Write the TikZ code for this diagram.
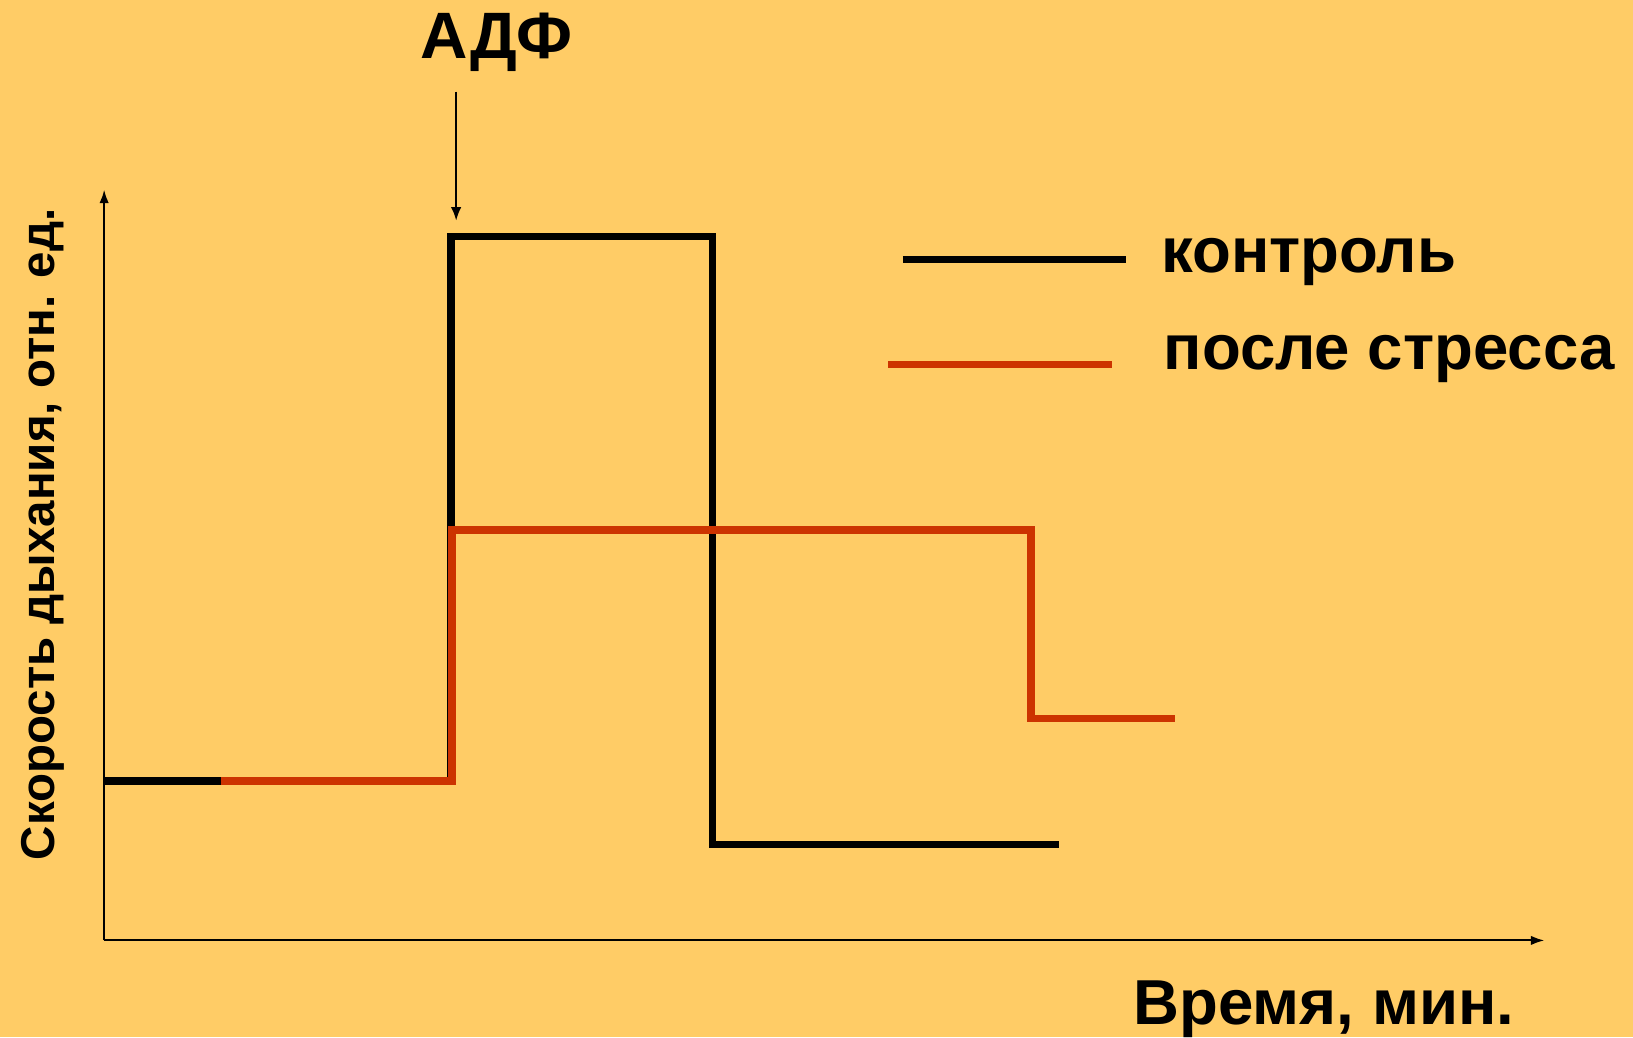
\documentclass[tikz,border=0pt]{standalone}
\usepackage{fontspec}
\setmainfont{Liberation Sans}
\usetikzlibrary{arrows.meta}
\definecolor{bg}{HTML}{FFCC66}
\definecolor{stress}{HTML}{CC3300}

\begin{document}
\begin{tikzpicture}[x=0.5pt,y=0.5pt,
  axis/.style={line width=1pt,-{Latex[length=6.5pt,width=4.5pt]}},
  ctrl/.style={line width=3.6pt,black},
  strs/.style={line width=3.6pt,stress},
  lbl/.style={font=\fontsize{30.5}{36}\selectfont\bfseries,inner sep=0pt}]
\fill[bg] (0,0) rectangle (1568,996);
\useasboundingbox (0,0) rectangle (1568,996);

% axes
\coordinate (O) at (100,93);
\coordinate (Ymax) at (100,814);
\coordinate (Xmax) at (1483,93);
\draw[axis] (O) -- (Ymax);
\draw[axis] (O) -- (Xmax);

% labels
\node (adf) [lbl,font=\fontsize{31.5}{38}\selectfont\bfseries,anchor=base] at (477,940) {АДФ};
\node (time) [lbl,anchor=base west] at (1088,12) {Время, мин.};
\node (rate) [lbl,font=\fontsize{22.8}{28}\selectfont\bfseries,rotate=90,anchor=base] at (52,483) {Скорость дыхания, отн. ед.};

\coordinate (a1) at (438,908);
\coordinate (a2) at (438,784);
\draw[line width=1pt,-{Latex[length=6.5pt,width=5pt]}] (a1) -- (a2);

% control
\coordinate (k1) at (100,246);
\coordinate (k2) at (433,246);
\coordinate (k3) at (433,769);
\coordinate (k4) at (684,769);
\coordinate (k5) at (684,185);
\coordinate (k6) at (1017,185);
\draw[ctrl] (k1) -- (k2) -- (k3) -- (k4) -- (k5) -- (k6);

% after stress
\coordinate (s1) at (212,246);
\coordinate (s2) at (434,246);
\coordinate (s3) at (434,487);
\coordinate (s4) at (990,487);
\coordinate (s5) at (990,306);
\coordinate (s6) at (1128,306);
\draw[strs] (s1) -- (s2) -- (s3) -- (s4) -- (s5) -- (s6);

% legend
\coordinate (l1) at (867,747);
\coordinate (l2) at (1081,747);
\draw[ctrl] (l1) -- (l2);
\node (lctrl) [lbl,anchor=base west] at (1115,734) {контроль};
\coordinate (l3) at (853,646);
\coordinate (l4) at (1068,646);
\draw[strs] (l3) -- (l4);
\node (lstrs) [lbl,anchor=base west] at (1117,641) {после стресса};
\end{tikzpicture}
\end{document}
